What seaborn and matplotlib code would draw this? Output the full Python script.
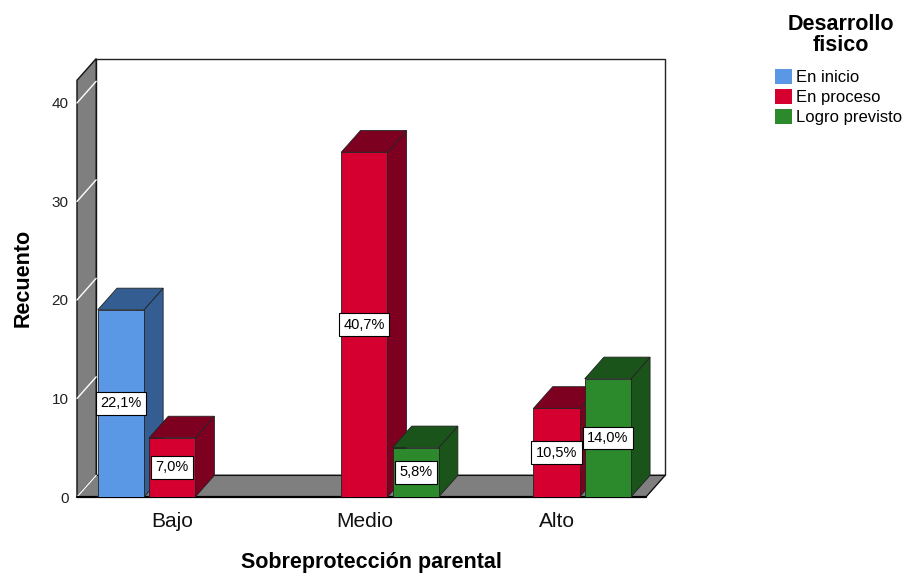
import numpy as np
import pandas as pd
import matplotlib.pyplot as plt
import seaborn as sns
from matplotlib.patches import Polygon, Patch
from matplotlib.colors import to_rgba

# Datos
categorias = ["Bajo", "Medio", "Alto"]
niveles = ["En inicio", "En proceso", "Logro previsto"]
en_inicio = [19, 0, 0]
en_proceso = [6, 35, 9]
logro_previsto = [0, 5, 12]
pct_inicio = ["22,1%", "", ""]
pct_proceso = ["7,0%", "40,7%", "10,5%"]
pct_logro = ["", "5,8%", "14,0%"]
yticks = [0, 10, 20, 30, 40]

colores_frente = ["#5A98E6", "#D5002F", "#2C8A2C"]
colores_lado = ["#345E92", "#7E0020", "#1B541B"]

filas = []
for nivel, vals, pcts in zip(niveles, [en_inicio, en_proceso, logro_previsto],
                             [pct_inicio, pct_proceso, pct_logro]):
    for cat, v, p in zip(categorias, vals, pcts):
        filas.append({"Sobreprotección": cat, "Desarrollo": nivel, "Recuento": v, "pct": p})
df = pd.DataFrame(filas)

sns.set_style("white")
plt.rcParams['font.family'] = ['Liberation Sans', 'DejaVu Sans']
plt.rcParams['text.color'] = 'black'

fig = plt.figure(figsize=(9.11, 5.77), dpi=100)
ax = fig.add_axes([0.0845, 0.1386, 0.6456, 0.7598])

sns.barplot(data=df, x="Sobreprotección", y="Recuento", hue="Desarrollo",
            order=categorias, hue_order=niveles, palette=colores_frente,
            saturation=1, width=0.8, gap=0.1, errorbar=None, legend=False,
            edgecolor="#222222", linewidth=0.6, ax=ax)

# profundidad 3D (unidades de datos)
dx, dy = 0.1, 2.2
xl = -0.495
xr = 2.465
ytop = 44.5

# pared izquierda, suelo y fondo
ax.add_patch(Polygon([(xl + dx, dy), (xr + dx, dy), (xr + dx, ytop), (xl + dx, ytop)],
                     closed=True, facecolor="white", edgecolor="#222222", lw=1,
                     zorder=0.5, clip_on=False))
ax.add_patch(Polygon([(xl, 0), (xl + dx, dy), (xl + dx, ytop), (xl, ytop - dy)],
                     closed=True, facecolor="#7F7F7F", edgecolor="#111111", lw=1,
                     zorder=0.8, clip_on=False))
ax.add_patch(Polygon([(xl, 0), (xr, 0), (xr + dx, dy), (xl + dx, dy)],
                     closed=True, facecolor="#7F7F7F", edgecolor="#111111", lw=1,
                     zorder=0.9, clip_on=False))
for t in yticks:
    ax.plot([xl, xl + dx], [t, t + dy], color="white", lw=1, zorder=0.95, clip_on=False)
ax.plot([xl, xr], [0, 0], color="black", lw=1.6, zorder=1, clip_on=False)

# caras laterales y superiores de las barras
rects = [p for p in ax.patches if hasattr(p, "get_width") and p.get_height() > 0]
rects = sorted(rects, key=lambda r: r.get_x())
frentes = [to_rgba(c) for c in colores_frente]
for i, r in enumerate(rects):
    fc = r.get_facecolor()
    k = int(np.argmin([sum((a - b) ** 2 for a, b in zip(fc, f)) for f in frentes]))
    x0, w, h = r.get_x(), r.get_width(), r.get_height()
    x1 = x0 + w
    base = 2 + i * 0.1
    ax.add_patch(Polygon([(x1, 0), (x1 + dx, dy), (x1 + dx, h + dy), (x1, h)], closed=True,
                         facecolor=colores_lado[k], edgecolor="#222222", lw=0.6, zorder=base))
    ax.add_patch(Polygon([(x0, h), (x0 + dx, h + dy), (x1 + dx, h + dy), (x1, h)], closed=True,
                         facecolor=colores_lado[k], edgecolor="#222222", lw=0.6, zorder=base))
    r.set_zorder(base + 0.05)

# etiquetas de porcentaje
for nivel, vals, pcts in zip(niveles, [en_inicio, en_proceso, logro_previsto],
                             [pct_inicio, pct_proceso, pct_logro]):
    k = niveles.index(nivel)
    for j, (v, p) in enumerate(zip(vals, pcts)):
        if v > 0:
            xc = j + (k - 1) * 0.8 / 3
            ax.text(xc, v / 2, p, ha="center", va="center", fontsize=10.5, zorder=10,
                    bbox=dict(boxstyle="square,pad=0.3", facecolor="white",
                              edgecolor="black", lw=0.8))

ax.set_xlim(xl, xr + dx)
ax.set_ylim(0, ytop)
ax.set_yticks(yticks)
ax.set_yticklabels([str(t) for t in yticks], fontsize=11, color="#222222")
ax.set_xticks(range(len(categorias)))
ax.set_xticklabels(categorias, fontsize=15, color="#111111")
ax.tick_params(axis="y", length=0, pad=6)
ax.tick_params(axis="x", length=0, pad=11)
for s in ax.spines.values():
    s.set_visible(False)
ax.set_xlabel("Sobreprotección parental", fontsize=15.5, fontweight="bold",
              labelpad=15, color="black")
ax.set_ylabel("Recuento", fontsize=15.5, fontweight="bold", labelpad=13, color="black")

# leyenda
fig.text(0.923, 1 - 35 / 577, "Desarrollo\nfisico", ha="center", va="center",
         fontsize=15.5, fontweight="bold", linespacing=0.95)
handles = [Patch(facecolor=c, edgecolor="none") for c in colores_frente]
fig.legend(handles, niveles, loc="upper left",
           bbox_to_anchor=(0.851, 1 - 69 / 577), frameon=False, fontsize=12,
           handlelength=1.0, handleheight=1.0, handletextpad=0.25,
           labelspacing=0.22, borderaxespad=0, borderpad=0)

fig.savefig("out.png", dpi=100)
